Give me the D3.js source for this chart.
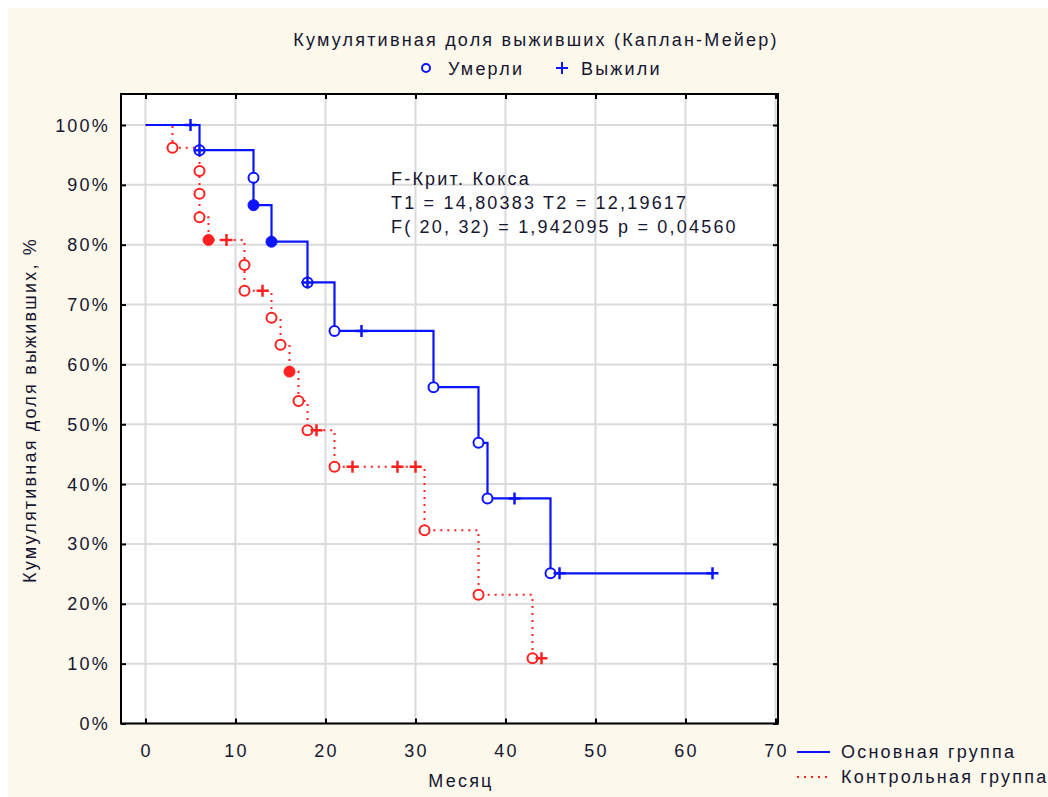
<!DOCTYPE html>
<html>
<head>
<meta charset="utf-8">
<script src="https://cdn.jsdelivr.net/npm/d3@7"></script>
<style>
  body { margin: 0; background: #ffffff; }
  text { font-family: "Liberation Sans", Arial, sans-serif; fill: #161630; font-size: 18px; letter-spacing: 2.2px; }
</style>
</head>
<body>
<div id="chart-container"></div>
<script>
// tick values
const xTicks = [0, 10, 20, 30, 40, 50, 60, 70];
const yTicks = [0, 10, 20, 30, 40, 50, 60, 70, 80, 90, 100];

// main group (Основная группа): step line [month, %]
const mainLine = [[0, 100], [6, 95.8], [12, 91.2], [12, 86.6], [14, 80.5], [18, 73.7], [21, 65.6],
    [32, 56.2], [37, 46.9], [38, 37.6], [45, 25.1], [63, 25.1]];
const mainDied = [[6, 95.8], [12, 91.2], [18, 73.7], [21, 65.6], [32, 56.2], [37, 46.9], [38, 37.6], [45, 25.1]];
const mainFilled = [[12, 86.6], [14, 80.5]];
const mainCensored = [[5, 100], [6, 95.8], [18, 73.7], [24, 65.6], [41, 37.6], [46, 25.1], [63, 25.1]];

// control group (Контрольная группа)
const ctrlLine = [[0, 100], [3, 96.2], [6, 92.3], [6, 88.5], [6, 84.6], [7, 80.8], [11, 76.6], [11, 72.3],
    [14, 67.8], [15, 63.3], [16, 58.8], [17, 53.9], [18, 49.0], [21, 42.9], [31, 32.3], [37, 21.5],
    [43, 10.9], [44, 10.9]];
const ctrlDied = [[3, 96.2], [6, 92.3], [6, 88.5], [6, 84.6], [11, 76.6], [11, 72.3], [14, 67.8], [15, 63.3],
    [17, 53.9], [18, 49.0], [21, 42.9], [31, 32.3], [37, 21.5], [43, 10.9]];
const ctrlFilled = [[7, 80.8], [16, 58.8]];
const ctrlCensored = [[9, 80.8], [13, 72.3], [19, 49.0], [23, 42.9], [28, 42.9], [30, 42.9], [44, 10.9]];

const statLines = ["F-Крит. Кокса", "T1 = 14,80383 T2 = 12,19617", "F( 20, 32) = 1,942095 p = 0,04560"];

const W = 1048, H = 797;
const frame = {left: 121, top: 94, right: 778, bottom: 723.5};
const blue = "#0a14ff", red = "#ff2020";

const svg = d3.select("#chart-container")
    .append("svg")
        .attr("width", W)
        .attr("height", H);

// cream background
svg.append("rect")
    .attr("x", 8).attr("y", 8)
    .attr("width", W - 8).attr("height", H - 8)
    .attr("fill", "#fdf8ec");

// scales
const x = d3.scaleLinear().domain([0, 70]).range([145.5, 775.5]);
const y = d3.scaleLinear().domain([0, 100]).range([723.5, 125]);

// plot area
svg.append("rect")
    .attr("x", frame.left).attr("y", frame.top)
    .attr("width", frame.right - frame.left)
    .attr("height", frame.bottom - frame.top)
    .attr("fill", "#ffffff");

// grid
svg.append("g")
    .selectAll("line")
    .data(xTicks)
    .join("line")
        .attr("x1", d => x(d)).attr("x2", d => x(d))
        .attr("y1", frame.top).attr("y2", frame.bottom)
        .attr("stroke", "#dadada").attr("stroke-width", 2);
svg.append("g")
    .selectAll("line")
    .data(yTicks)
    .join("line")
        .attr("x1", frame.left).attr("x2", frame.right)
        .attr("y1", d => y(d)).attr("y2", d => y(d))
        .attr("stroke", "#dadada").attr("stroke-width", 2);

// axes (ticks pointing inside, labels drawn separately)
const axisStyle = g => {
    g.select(".domain").remove();
    g.selectAll(".tick text").remove();
    g.selectAll(".tick line").attr("stroke", "#000").attr("stroke-width", 2);
};
svg.append("g").attr("transform", `translate(0, ${frame.bottom})`)
    .call(d3.axisBottom(x).tickValues(xTicks).tickSizeInner(-5)).call(axisStyle);
svg.append("g").attr("transform", `translate(0, ${frame.top})`)
    .call(d3.axisTop(x).tickValues(xTicks).tickSizeInner(-5)).call(axisStyle);
svg.append("g").attr("transform", `translate(${frame.left}, 0)`)
    .call(d3.axisLeft(y).tickValues(yTicks).tickSizeInner(-5)).call(axisStyle);
svg.append("g").attr("transform", `translate(${frame.right}, 0)`)
    .call(d3.axisRight(y).tickValues(yTicks).tickSizeInner(-5)).call(axisStyle);

// tick labels
svg.append("g")
    .selectAll("text")
    .data(xTicks)
    .join("text")
        .attr("x", d => x(d) + 1)
        .attr("y", 757)
        .attr("text-anchor", "middle")
        .text(d => d);
svg.append("g")
    .selectAll("text")
    .data(yTicks)
    .join("text")
        .attr("x", 110)
        .attr("y", d => y(d) + 6.5)
        .attr("text-anchor", "end")
        .text(d => d + "%");

// frame
svg.append("rect")
    .attr("x", frame.left).attr("y", frame.top)
    .attr("width", frame.right - frame.left)
    .attr("height", frame.bottom - frame.top)
    .attr("fill", "none")
    .attr("stroke", "#000")
    .attr("stroke-width", 2);

// lines
const line = d3.line()
    .x(d => x(d[0]))
    .y(d => y(d[1]))
    .curve(d3.curveStepAfter);

svg.append("path")
    .datum(ctrlLine)
    .attr("d", line)
    .attr("fill", "none")
    .attr("stroke", red)
    .attr("stroke-width", 2)
    .attr("stroke-dasharray", "2,5");

svg.append("path")
    .datum(mainLine)
    .attr("d", line)
    .attr("fill", "none")
    .attr("stroke", blue)
    .attr("stroke-width", 2.2);

// markers
function drawMarkers(died, filled, censored, color) {
    const g = svg.append("g");
    g.selectAll(".died")
        .data(died)
        .join("circle")
            .attr("class", "died")
            .attr("cx", d => x(d[0]))
            .attr("cy", d => y(d[1]))
            .attr("r", 5)
            .attr("fill", "#fff")
            .attr("stroke", color)
            .attr("stroke-width", 2);
    g.selectAll(".filled")
        .data(filled)
        .join("circle")
            .attr("class", "filled")
            .attr("cx", d => x(d[0]))
            .attr("cy", d => y(d[1]))
            .attr("r", 5.5)
            .attr("fill", color)
            .attr("stroke", color)
            .attr("stroke-width", 1);
    g.selectAll(".cens")
        .data(censored)
        .join("path")
            .attr("class", "cens")
            .attr("d", d => {
                const cx = x(d[0]), cy = y(d[1]);
                return `M${cx - 6},${cy}H${cx + 6}M${cx},${cy - 6}V${cy + 6}`;
            })
            .attr("stroke", color)
            .attr("stroke-width", 2.5);
}
drawMarkers(ctrlDied, ctrlFilled, ctrlCensored, red);
drawMarkers(mainDied, mainFilled, mainCensored, blue);

// title
svg.append("text")
    .attr("x", 536).attr("y", 46)
    .attr("text-anchor", "middle")
    .text("Кумулятивная доля выживших (Каплан-Мейер)");

// top legend
svg.append("circle")
    .attr("cx", 426).attr("cy", 68).attr("r", 4)
    .attr("fill", "none").attr("stroke", blue).attr("stroke-width", 2);
svg.append("text")
    .attr("x", 448).attr("y", 75)
    .text("Умерли");
svg.append("path")
    .attr("d", "M556,68H568M562,62V74")
    .attr("stroke", blue).attr("stroke-width", 2);
svg.append("text")
    .attr("x", 581).attr("y", 75)
    .text("Выжили");

// statistics annotation
svg.append("g")
    .selectAll("text")
    .data(statLines)
    .join("text")
        .attr("x", 391)
        .attr("y", (d, i) => 185 + i * 24)
        .text(d => d);

// axis titles
svg.append("text")
    .attr("x", 461).attr("y", 787)
    .attr("text-anchor", "middle")
    .text("Месяц");
svg.append("text")
    .attr("transform", "translate(36, 410) rotate(-90)")
    .attr("text-anchor", "middle")
    .text("Кумулятивная доля выживших, %");

// bottom legend
svg.append("line")
    .attr("x1", 797).attr("x2", 830).attr("y1", 752).attr("y2", 752)
    .attr("stroke", blue).attr("stroke-width", 2);
svg.append("line")
    .attr("x1", 797).attr("x2", 830).attr("y1", 777).attr("y2", 777)
    .attr("stroke", red).attr("stroke-width", 2).attr("stroke-dasharray", "2,5");
svg.append("text")
    .attr("x", 841).attr("y", 758)
    .text("Основная группа");
svg.append("text")
    .attr("x", 841).attr("y", 783)
    .text("Контрольная группа");
</script>
</body>
</html>
